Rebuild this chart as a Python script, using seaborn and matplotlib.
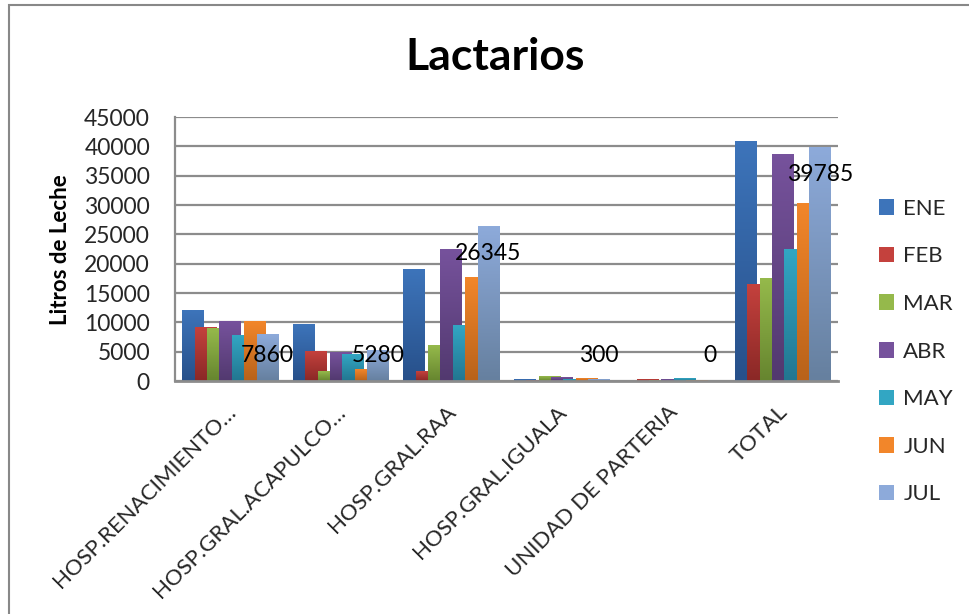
import numpy as np
import pandas as pd
import seaborn as sns
import matplotlib
matplotlib.use("Agg")
import matplotlib.pyplot as plt
from matplotlib.colors import LinearSegmentedColormap
from matplotlib.patches import Patch, Rectangle
import matplotlib.transforms as mtransforms

# ---------------- data ----------------
categories = ["HOSP.RENACIMIENTO…", "HOSP.GRAL.ACAPULCO…", "HOSP.GRAL.RAA",
              "HOSP.GRAL.IGUALA", "UNIDAD DE PARTERIA", "TOTAL"]
months = ["ENE", "FEB", "MAR", "ABR", "MAY", "JUN", "JUL"]
ene = [12100, 9600, 19000, 300, 0, 40800]
feb = [9200, 5100, 1700, 100, 250, 16400]
mar = [8900, 1700, 6000, 800, 100, 17400]
abr = [10100, 4900, 22400, 650, 250, 38600]
may = [7700, 4600, 9400, 300, 450, 22400]
jun = [10100, 1900, 17600, 450, 100, 30200]
jul = [7860, 5280, 26345, 300, 0, 39785]
series = [ene, feb, mar, abr, may, jun, jul]
labeled_series = jul  # data labels shown for JUL
yticks = [0, 5000, 10000, 15000, 20000, 25000, 30000, 35000, 40000, 45000]

colors_top = ["#3D74BA", "#C4413D", "#95B94B", "#76529C", "#32A6C3", "#F2862A", "#8DAADA"]
colors_bot = ["#27508A", "#8A2826", "#66852F", "#52396F", "#227690", "#B8621A", "#66809F"]

df = pd.DataFrame({
    "cat": [c for m in months for c in categories],
    "mes": [m for m in months for _ in categories],
    "val": [v for s in series for v in s],
})

# ---------------- figure ----------------
W, H = 970, 614
fig = plt.figure(figsize=(W / 100, H / 100), dpi=100)
sns.set_style("white")
plt.rcParams["font.family"] = ["Lato", "DejaVu Sans"]

ax = fig.add_axes([175 / W, 1 - 381 / H, (838 - 175) / W, (381 - 117) / H])

sns.barplot(data=df, x="cat", y="val", hue="mes", hue_order=months,
            order=categories, palette=colors_top, ax=ax, legend=False,
            errorbar=None, saturation=1)

step = 12.4 / 110.5
bw = 21.5 / 110.5
for i, cont in enumerate(ax.containers):
    cmap = LinearSegmentedColormap.from_list(f"g{i}", [colors_bot[i], colors_top[i]])
    for j, bar in enumerate(cont):
        h = bar.get_height()
        x0 = j + (i - 3) * step - bw / 2
        bar.set_x(x0)
        bar.set_width(bw)
        bar.set_alpha(0)
        if h > 0:
            grad = np.linspace(0, 1, 64).reshape(-1, 1)
            ax.imshow(grad, extent=[x0, x0 + bw, 0, h], origin="lower",
                      aspect="auto", cmap=cmap, zorder=2 + i * 0.1,
                      interpolation="bilinear")

ax.set_xlim(-0.5, len(categories) - 0.5)
ax.set_ylim(0, 45000)
ax.set_yticks(yticks)
ax.set_yticklabels([str(t) for t in yticks])

# gridlines
ax.grid(axis="y", color="#8C8C8C", linewidth=1.6, zorder=0)
ax.set_axisbelow(True)
for s in ["top", "right"]:
    ax.spines[s].set_visible(False)
ax.spines["left"].set_color("#8C8C8C")
ax.spines["left"].set_linewidth(1.6)
ax.spines["bottom"].set_color("#8C8C8C")
ax.spines["bottom"].set_linewidth(2.0)
ax.spines["bottom"].set_zorder(5)

ax.tick_params(axis="y", length=0, pad=18, labelsize=16.5)
ax.tick_params(axis="x", length=0, pad=20, labelsize=16)
ax.set_xlabel("")
ax.set_ylabel("")
offset = mtransforms.ScaledTranslation(2 / 100, 0, fig.dpi_scale_trans)
for lab in ax.get_xticklabels():
    lab.set_rotation(45)
    lab.set_rotation_mode("anchor")
    lab.set_ha("right")
    lab.set_va("center")
    lab.set_transform(lab.get_transform() + offset)

# data labels for JUL
for j, v in enumerate(labeled_series):
    xc = j + 3 * step
    yl = max(v - 4600, 4400)
    ax.text(xc, yl, str(v), ha="center", va="center", fontsize=16.5,
            color="black", zorder=10)

# title and y label
fig.text(495 / W, 1 - 57 / H, "Lactarios", ha="center", va="center",
         fontsize=32, fontweight="bold", color="black")
fig.text(61 / W, 1 - 250 / H, "Litros de Leche", ha="center", va="center",
         rotation=90, fontsize=16, fontweight="bold", color="black")

# legend
handles = [Patch(facecolor=colors_top[i], edgecolor="none") for i in range(len(months))]
fig.legend(handles, months, loc="upper left", bbox_to_anchor=(870 / W, 1 - 190 / H),
           frameon=False, fontsize=16, handlelength=0.7, handleheight=0.7,
           handletextpad=0.4, labelspacing=1.24, borderaxespad=0)

# outer chart border
fig.add_artist(Rectangle((9 / W, -0.1), 1.2, 1 - 5 / H + 0.1, transform=fig.transFigure,
                         fill=False, edgecolor="#888888", linewidth=1.5))

fig.savefig("out.png", dpi=100)
